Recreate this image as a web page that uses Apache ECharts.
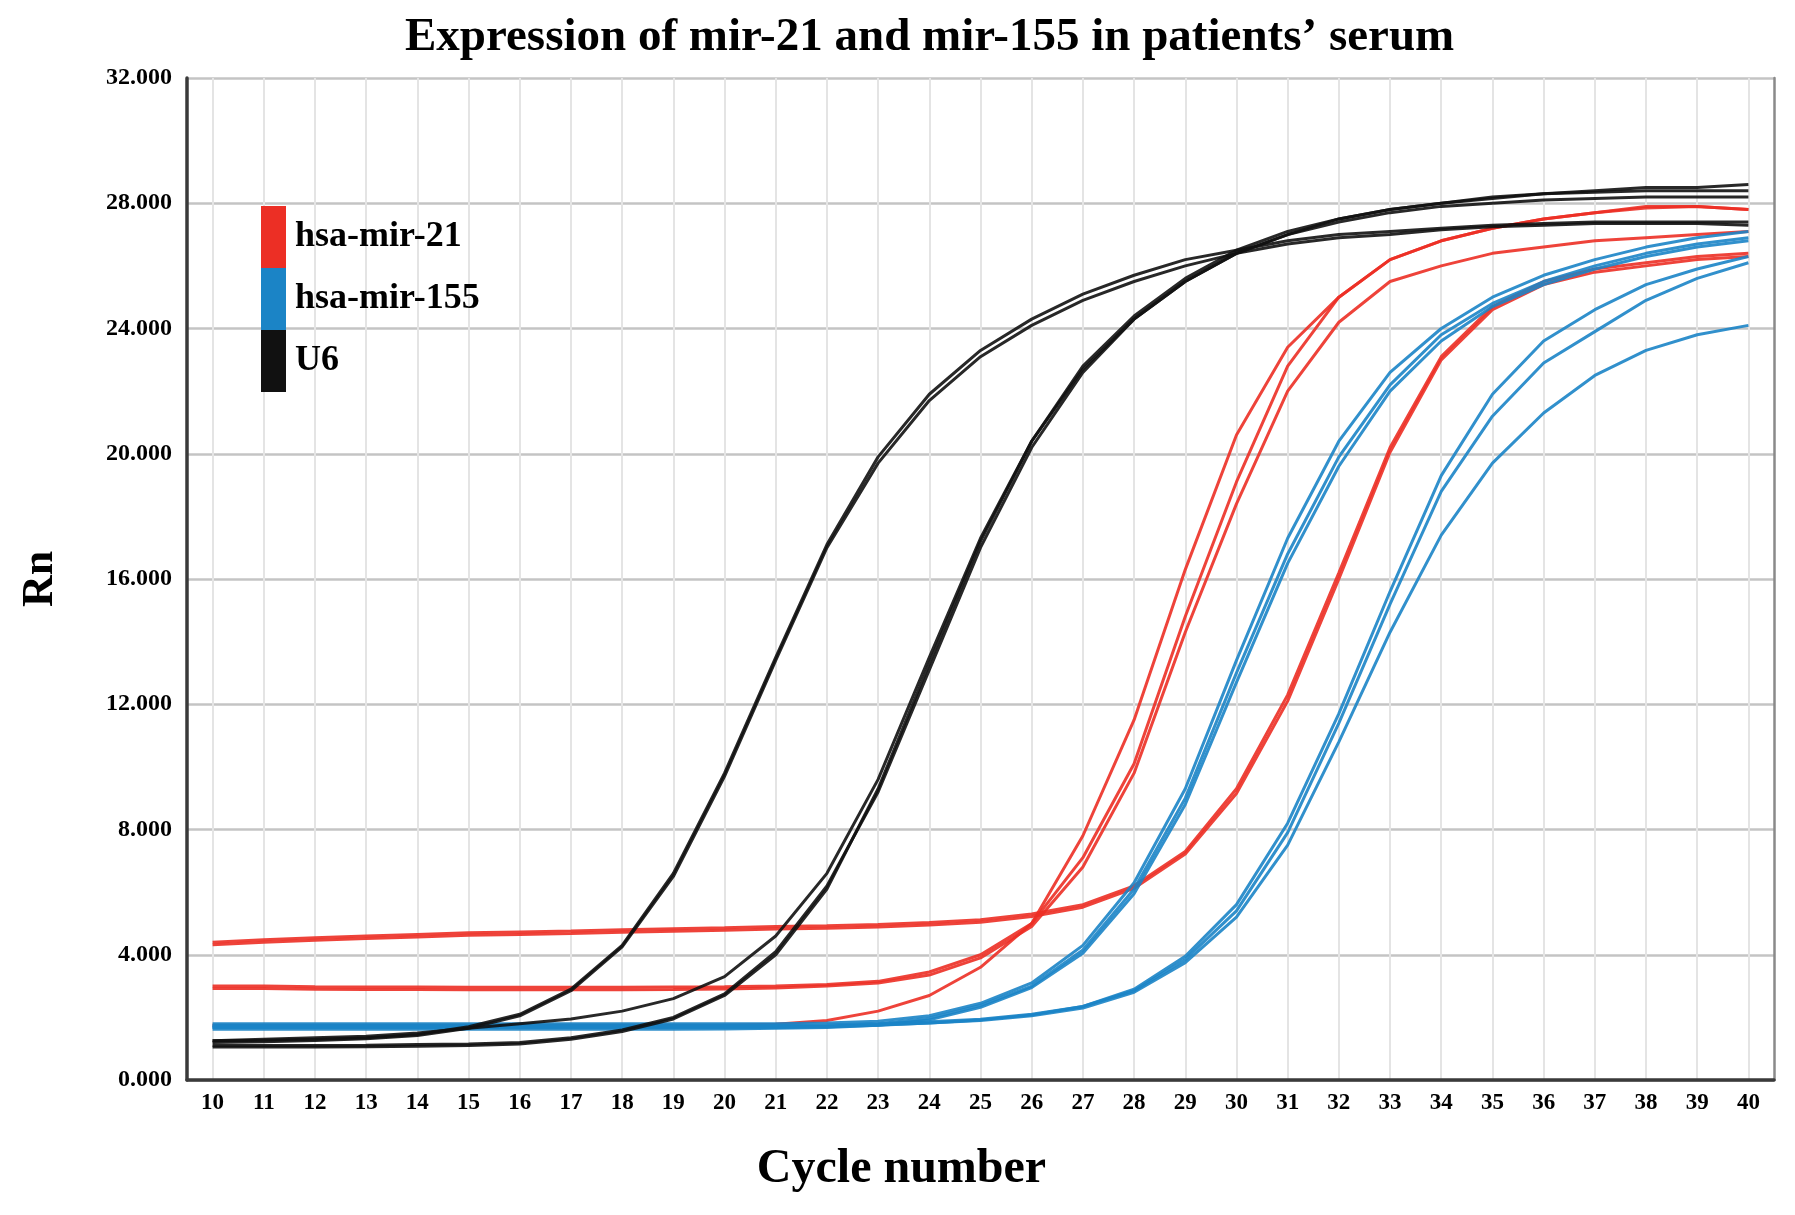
<!DOCTYPE html>
<html>
<head>
<meta charset="utf-8">
<script src="https://cdn.jsdelivr.net/npm/echarts@6/dist/echarts.min.js"></script>
<style>
html,body{margin:0;padding:0;background:#fff;}
#main{width:1795px;height:1215px;}
</style>
</head>
<body>
<div id="main"></div>
<script>
// ---- data ----
const cycles = [10,11,12,13,14,15,16,17,18,19,20,21,22,23,24,25,26,27,28,29,30,31,32,33,34,35,36,37,38,39,40];
const yTicks = [0,4,8,12,16,20,24,28,32];
const groupNames = ['hsa-mir-21','hsa-mir-155','U6'];

// hsa-mir-21 (red)
const mir21_1 = [4.4,4.48,4.54,4.6,4.65,4.7,4.73,4.76,4.8,4.83,4.86,4.9,4.93,4.97,5.03,5.12,5.3,5.6,6.2,7.3,9.3,12.3,16.2,20.2,23.1,24.7,25.5,25.9,26.1,26.3,26.4];
const mir21_2 = [4.32,4.4,4.46,4.52,4.57,4.62,4.65,4.68,4.72,4.75,4.78,4.82,4.85,4.89,4.95,5.04,5.22,5.52,6.12,7.22,9.15,12.1,16.0,20.05,23.0,24.6,25.4,25.8,26.0,26.2,26.3];
const mir21_3 = [3.0,3.0,2.98,2.97,2.97,2.96,2.96,2.96,2.96,2.97,2.98,3.0,3.05,3.15,3.45,4.0,5.0,7.1,10.1,14.8,19.1,22.8,25.0,26.2,26.8,27.2,27.5,27.7,27.9,27.9,27.8];
const mir21_4 = [2.92,2.92,2.9,2.89,2.89,2.88,2.88,2.88,2.88,2.89,2.91,2.94,3.0,3.1,3.35,3.9,4.9,6.8,9.8,14.3,18.4,22.0,24.2,25.5,26.0,26.4,26.6,26.8,26.9,27.0,27.1];
const mir21_5 = [1.75,1.75,1.75,1.75,1.75,1.75,1.75,1.75,1.75,1.75,1.75,1.78,1.9,2.2,2.7,3.6,5.0,7.8,11.5,16.3,20.6,23.4,25.0,26.2,26.8,27.2,27.5,27.7,27.85,27.9,27.8];

// hsa-mir-155 (blue)
const mir155_1 = [1.8,1.8,1.8,1.8,1.8,1.8,1.8,1.8,1.8,1.8,1.8,1.8,1.82,1.88,2.05,2.45,3.1,4.3,6.3,9.3,13.4,17.3,20.4,22.6,24.0,25.0,25.7,26.2,26.6,26.9,27.1];
const mir155_2 = [1.7,1.7,1.7,1.7,1.7,1.7,1.7,1.7,1.7,1.7,1.7,1.7,1.72,1.8,1.97,2.38,3.0,4.15,6.1,9.0,13.0,16.8,19.9,22.2,23.8,24.8,25.5,26.0,26.4,26.7,26.9];
const mir155_3 = [1.62,1.62,1.62,1.62,1.62,1.62,1.62,1.62,1.62,1.62,1.63,1.65,1.68,1.75,1.92,2.32,2.95,4.05,5.95,8.8,12.7,16.5,19.6,22.0,23.6,24.7,25.4,25.9,26.3,26.6,26.8];
const mir155_4 = [1.7,1.7,1.7,1.7,1.7,1.7,1.7,1.7,1.7,1.7,1.7,1.7,1.72,1.76,1.82,1.9,2.05,2.3,2.8,3.75,5.2,7.5,10.8,14.3,17.4,19.7,21.3,22.5,23.3,23.8,24.1];
const mir155_5 = [1.75,1.75,1.75,1.75,1.75,1.75,1.75,1.75,1.75,1.75,1.75,1.75,1.76,1.8,1.86,1.94,2.1,2.35,2.85,3.85,5.4,7.9,11.4,15.2,18.8,21.2,22.9,23.9,24.9,25.6,26.1];
const mir155_6 = [1.68,1.68,1.68,1.68,1.68,1.68,1.68,1.68,1.68,1.68,1.68,1.68,1.7,1.75,1.82,1.92,2.08,2.35,2.9,3.95,5.6,8.2,11.7,15.6,19.3,21.9,23.6,24.6,25.4,25.9,26.3];

// U6 (black)
const u6_1 = [1.25,1.27,1.3,1.35,1.45,1.7,2.1,2.9,4.3,6.6,9.8,13.5,17.1,19.9,21.9,23.3,24.3,25.1,25.7,26.2,26.5,26.8,27.0,27.1,27.2,27.3,27.35,27.4,27.4,27.4,27.4];
const u6_2 = [1.2,1.22,1.26,1.32,1.42,1.65,2.05,2.85,4.25,6.5,9.7,13.4,17.0,19.7,21.7,23.1,24.1,24.9,25.5,26.0,26.4,26.7,26.9,27.0,27.15,27.25,27.3,27.35,27.35,27.35,27.3];
const u6_3 = [1.25,1.3,1.35,1.4,1.5,1.65,1.8,1.95,2.2,2.6,3.3,4.6,6.6,9.6,13.5,17.3,20.4,22.7,24.3,25.5,26.4,27.0,27.5,27.8,28.0,28.2,28.3,28.4,28.5,28.5,28.6];
const u6_4 = [1.05,1.05,1.05,1.06,1.08,1.1,1.15,1.3,1.55,1.95,2.7,4.0,6.1,9.3,13.3,17.2,20.4,22.8,24.4,25.6,26.5,27.1,27.5,27.8,28.0,28.15,28.3,28.35,28.4,28.4,28.4];
const u6_5 = [1.1,1.1,1.1,1.11,1.13,1.15,1.2,1.35,1.6,2.0,2.75,4.1,6.2,9.2,13.1,17.0,20.2,22.6,24.3,25.5,26.4,27.0,27.4,27.7,27.9,28.0,28.1,28.15,28.2,28.2,28.2];

const groups = [
  { name: groupNames[0], color: '#ec2f25', curves: [mir21_1, mir21_2, mir21_3, mir21_4, mir21_5] },
  { name: groupNames[1], color: '#1b84c6', curves: [mir155_1, mir155_2, mir155_3, mir155_4, mir155_5, mir155_6] },
  { name: groupNames[2], color: '#111111', curves: [u6_1, u6_2, u6_3, u6_4, u6_5] }
];

const FONT = '"Liberation Serif", "Times New Roman", serif';

const series = [];
groups.forEach(g => {
  g.curves.forEach(arr => {
    series.push({
      type: 'line',
      name: g.name,
      data: cycles.map((c, i) => [c, arr[i]]),
      symbol: 'none',
      smooth: false,
      color: g.color,
      itemStyle: { color: g.color },
      lineStyle: { color: g.color, width: 3, opacity: 0.9 },
      emphasis: { disabled: true },
      silent: true
    });
  });
});

const chart = echarts.init(document.getElementById('main'), null, { renderer: 'canvas' });
chart.setOption({
  backgroundColor: '#ffffff',
  animation: false,
  title: {
    text: 'Expression of mir-21 and mir-155 in patients\u2019 serum',
    left: 400,
    top: 9,
    textStyle: { fontFamily: FONT, fontWeight: 'bold', fontSize: 47, color: '#000' }
  },
  legend: {
    data: groupNames,
    orient: 'vertical',
    left: 261,
    top: 206,
    padding: 0,
    itemGap: 0,
    itemWidth: 25,
    itemHeight: 62,
    icon: 'rect',
    selectedMode: false,
    textStyle: { fontFamily: FONT, fontWeight: 'bold', fontSize: 36, color: '#000', padding: [0, 0, 0, 4] }
  },
  grid: { left: 187, right: 21, top: 78, bottom: 135, containLabel: false },
  xAxis: {
    type: 'value',
    min: 9.5,
    max: 40.5,
    name: 'Cycle number',
    nameLocation: 'middle',
    nameGap: 66,
    nameTextStyle: { fontFamily: FONT, fontWeight: 'bold', fontSize: 48, color: '#000', padding: [0, 158, 0, 0] },
    axisLine: { show: true, onZero: false, lineStyle: { color: '#3a3a3a', width: 3.5 } },
    axisTick: { show: false, customValues: cycles },
    axisLabel: {
      customValues: cycles,
      margin: 12,
      fontFamily: FONT, fontWeight: 'bold', fontSize: 23, color: '#000'
    },
    splitLine: { show: true, lineStyle: { color: '#e4e4e4', width: 2 } }
  },
  yAxis: [{
    type: 'value',
    min: 0,
    max: 32,
    interval: 4,
    name: 'Rn',
    nameLocation: 'middle',
    nameRotate: 90,
    nameGap: 124,
    nameTextStyle: { fontFamily: FONT, fontWeight: 'bold', fontSize: 44, color: '#000' },
    axisLine: { show: true, lineStyle: { color: '#3a3a3a', width: 3.5 } },
    axisTick: { show: false },
    axisLabel: {
      margin: 15,
      fontFamily: FONT, fontWeight: 'bold', fontSize: 24, color: '#000',
      formatter: v => yTicks.indexOf(v) >= 0 ? v.toFixed(3) : ''
    },
    splitLine: { show: true, lineStyle: { color: '#c4c4c4', width: 2.5 } }
  }, {
    type: 'value',
    position: 'right',
    min: 0,
    max: 32,
    interval: 4,
    axisLine: { show: true, lineStyle: { color: '#8a8a8a', width: 2.5 } },
    axisTick: { show: false },
    axisLabel: { show: false },
    splitLine: { show: false }
  }],
  series: series
});
</script>
</body>
</html>
